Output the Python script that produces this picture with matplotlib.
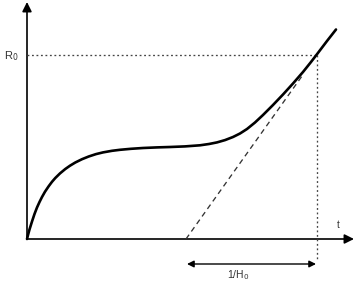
import matplotlib
matplotlib.use("Agg")
import matplotlib.pyplot as plt
from matplotlib.patches import FancyArrowPatch

# Curve R(t) (arbitrary units)
t_vals = [0, 1, 2.5, 5, 7.5, 10, 12.5, 15, 18, 21.7, 25, 28.3, 33, 38.3, 43, 48.3, 55, 61.7,
          69, 76, 85, 93, 104, 116, 130, 143, 158, 173, 182, 190, 198, 206, 213, 220, 228,
          236, 246, 256, 266, 276, 284, 290, 300, 309]
r_vals = [0, 4, 9.5, 17.5, 25, 31.5, 37, 42, 47.3, 52.8, 57.2, 61, 65.6, 70, 73.3, 76.5, 79.8,
          82.5, 84.9, 86.6, 88.2, 89.2, 90.2, 91.0, 91.6, 92.0, 92.6, 93.7, 95.0, 96.6, 98.9,
          102, 105.5, 110, 116.5, 124, 134, 144.5, 155.5, 167, 177, 184.8, 198, 209.5]

# Key quantities
t_now = 290        # present time
R0 = 184           # present scale factor value
t_intercept = 159  # tangent crosses time axis
tangent_end_t = 276

label_R0 = "R$_0$"
label_t = "t"
label_H = "1/H$_0$"

plt.rcParams['font.family'] = ['Liberation Sans', 'DejaVu Sans']

fig = plt.figure(figsize=(3.55, 2.86), dpi=100)
ax = fig.add_axes([0, 0, 1, 1])
ax.set_xlim(-27, 328)
ax.set_ylim(-47, 239)
ax.axis('off')

# axes with arrows
ax.add_patch(FancyArrowPatch((0, 0), (0, 237), arrowstyle='-|>', mutation_scale=14,
                             lw=1.2, color='black', shrinkA=0, shrinkB=0))
ax.add_patch(FancyArrowPatch((0, 0), (327, 0), arrowstyle='-|>', mutation_scale=14,
                             lw=1.2, color='black', shrinkA=0, shrinkB=0))

# main curve
ax.plot(t_vals, r_vals, color='black', lw=1.9, solid_capstyle='round',
        solid_joinstyle='round', zorder=3)

# tangent (dashed)
slope = R0 / (t_now - t_intercept)
ax.plot([t_intercept, tangent_end_t], [0, slope * (tangent_end_t - t_intercept)],
        color='#333333', lw=0.95, dashes=(4, 3))

# dotted guides
ax.plot([0, t_now], [R0, R0], color='#444444', lw=0.95, dashes=(1.4, 2.0))
ax.plot([t_now, t_now], [R0, -22], color='#444444', lw=0.95, dashes=(1.4, 2.0))

# 1/H0 double arrow
ax.add_patch(FancyArrowPatch((t_intercept + 1, -25), (t_now - 1, -25), arrowstyle='<|-|>',
                             mutation_scale=10, lw=1.0, color='black', shrinkA=0, shrinkB=0))

ax.text(-16, R0 - 1, label_R0, fontsize=8, color='#333333', ha='center', va='center')
ax.text(311.5, 13.5, label_t, fontsize=7, color='#333333', ha='center', va='center')
ax.text(211, -36, label_H, fontsize=7.5, color='#333333', ha='center', va='center')

fig.savefig('out.png', dpi=100)
